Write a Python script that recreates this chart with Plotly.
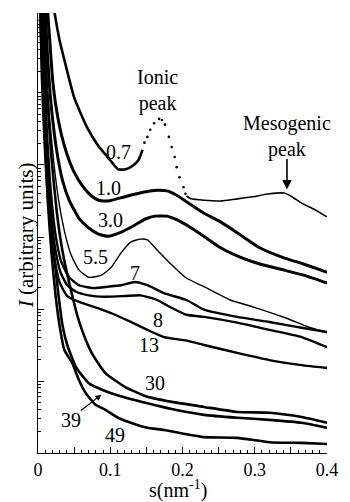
import numpy as np
import plotly.graph_objects as go

# s (nm^-1) and log10 of intensity (arbitrary units)
s_07_low = [0.0203, 0.023, 0.0297, 0.0365, 0.050, 0.0676, 0.0838, 0.0973, 0.1108, 0.1216, 0.1311, 0.1392, 0.1446]
L_07_low = [6.29, 6.11, 5.74, 5.46, 4.94, 4.53, 4.26, 4.10, 3.94, 3.94, 3.99, 4.07, 4.21]
s_07_peak = [0.1473, 0.1514, 0.1554, 0.1608, 0.1676, 0.1716, 0.1757, 0.1811, 0.1851, 0.1892, 0.1919, 0.1959, 0.2014, 0.2041]
L_07_peak = [4.31, 4.39, 4.49, 4.58, 4.64, 4.625, 4.56, 4.39, 4.25, 4.11, 3.97, 3.83, 3.69, 3.60]
s_07_tail = [0.2054, 0.2122, 0.2297, 0.2527, 0.2757, 0.2973, 0.3203, 0.3405, 0.3514, 0.3649, 0.3838, 0.400]
L_07_tail = [3.57, 3.53, 3.51, 3.50, 3.53, 3.56, 3.60, 3.61, 3.56, 3.47, 3.375, 3.28]

s_10 = [0.0122, 0.0162, 0.0203, 0.0257, 0.0324, 0.0405, 0.050, 0.0608, 0.073, 0.0838, 0.0973, 0.1203, 0.1473, 0.1649, 0.1784, 0.1919, 0.2054, 0.2297, 0.2527, 0.2757, 0.3068, 0.3405, 0.3676, 0.400]
L_10 = [6.29, 5.74, 5.18, 4.76, 4.42, 4.14, 3.90, 3.72, 3.58, 3.51, 3.50, 3.56, 3.625, 3.65, 3.64, 3.58, 3.49, 3.33, 3.21, 3.06, 2.85, 2.71, 2.625, 2.51]

s_30 = [0.0095, 0.0135, 0.0189, 0.0257, 0.0338, 0.0432, 0.0568, 0.0703, 0.0838, 0.0973, 0.1135, 0.1311, 0.1486, 0.1622, 0.1784, 0.1919, 0.2122, 0.2324, 0.2527, 0.2797, 0.3068, 0.3405, 0.3676, 0.400]
L_30 = [6.29, 5.46, 4.76, 4.21, 3.79, 3.51, 3.26, 3.125, 3.04, 3.01, 3.06, 3.15, 3.25, 3.29, 3.29, 3.24, 3.125, 2.99, 2.85, 2.72, 2.625, 2.54, 2.47, 2.36]

s_55 = [0.0068, 0.0108, 0.0162, 0.023, 0.0297, 0.0378, 0.0459, 0.0568, 0.0703, 0.0878, 0.1014, 0.1149, 0.1284, 0.1419, 0.1514, 0.1649, 0.1824, 0.2054, 0.2297, 0.2662, 0.2973, 0.3432, 0.3743, 0.400]
L_55 = [6.29, 5.46, 4.625, 3.93, 3.44, 3.03, 2.75, 2.54, 2.44, 2.47, 2.58, 2.78, 2.93, 2.97, 2.96, 2.82, 2.64, 2.43, 2.31, 2.125, 2.03, 1.875, 1.75, 1.67]

s_7 = [0.0054, 0.0081, 0.0122, 0.0176, 0.0243, 0.0324, 0.0432, 0.0568, 0.077, 0.0973, 0.1149, 0.1338, 0.1514, 0.1743, 0.2054, 0.2297, 0.2757, 0.3203, 0.3649, 0.400]
L_7 = [6.29, 5.46, 4.49, 3.65, 3.03, 2.65, 2.44, 2.33, 2.29, 2.31, 2.33, 2.375, 2.33, 2.22, 2.125, 1.99, 1.89, 1.82, 1.74, 1.68]

s_8 = [0.0041, 0.0068, 0.0108, 0.0162, 0.023, 0.0311, 0.0405, 0.0527, 0.0703, 0.0932, 0.1203, 0.1419, 0.1649, 0.1824, 0.2054, 0.2297, 0.2757, 0.3203, 0.3649, 0.400]
L_8 = [6.29, 5.32, 4.35, 3.51, 2.89, 2.51, 2.33, 2.24, 2.19, 2.17, 2.18, 2.19, 2.125, 2.03, 1.92, 1.89, 1.81, 1.71, 1.61, 1.47]

s_13 = [0.0027, 0.0054, 0.0095, 0.0149, 0.0216, 0.0297, 0.0405, 0.0568, 0.0838, 0.1068, 0.1284, 0.1514, 0.1743, 0.2054, 0.2297, 0.2757, 0.3203, 0.3649, 0.400]
L_13 = [6.29, 5.18, 4.21, 3.375, 2.75, 2.375, 2.18, 2.10, 2.01, 1.92, 1.82, 1.71, 1.61, 1.56, 1.50, 1.39, 1.29, 1.22, 1.18]

s_300 = [0.0068, 0.0122, 0.0189, 0.0257, 0.0324, 0.0392, 0.0473, 0.0541, 0.0608, 0.0743, 0.0932, 0.1203, 0.1514, 0.1851, 0.2297, 0.2757, 0.3203, 0.3649, 0.400]
L_300 = [6.29, 5.04, 4.07, 3.375, 2.89, 2.54, 2.19, 1.92, 1.71, 1.39, 1.11, 0.92, 0.78, 0.71, 0.64, 0.57, 0.56, 0.50, 0.42]

s_39 = [0.0041, 0.0081, 0.0122, 0.0176, 0.023, 0.0284, 0.0338, 0.0405, 0.0527, 0.0703, 0.0838, 0.1014, 0.1243, 0.1514, 0.1851, 0.2297, 0.2757, 0.3203, 0.3649, 0.400]
L_39 = [6.29, 5.18, 4.21, 3.28, 2.68, 2.19, 1.78, 1.50, 1.19, 0.97, 0.90, 0.83, 0.76, 0.69, 0.61, 0.53, 0.49, 0.46, 0.42, 0.35]

s_49 = [0.0027, 0.0054, 0.0095, 0.0135, 0.0189, 0.0243, 0.0297, 0.0365, 0.0473, 0.0568, 0.0662, 0.0797, 0.0932, 0.1108, 0.1284, 0.1514, 0.1743, 0.2054, 0.2297, 0.2757, 0.3203, 0.3649, 0.400]
L_49 = [6.29, 5.46, 4.49, 3.51, 2.75, 2.19, 1.78, 1.43, 1.25, 1.01, 0.83, 0.67, 0.60, 0.49, 0.42, 0.35, 0.32, 0.26, 0.22, 0.21, 0.15, 0.14, 0.125]

x_tickvals = [0, 0.05, 0.1, 0.15, 0.2, 0.25, 0.3, 0.35, 0.4]
x_ticktext = ["0", "", "0.1", "", "0.2", "", "0.3", "", "0.4"]

SERIF = "Liberation Serif, Times New Roman, serif"
fig = go.Figure()

def add_line(s, L, width):
    fig.add_trace(go.Scatter(x=s, y=np.power(10.0, L), mode="lines",
                             line=dict(color="black", width=width, shape="spline", smoothing=0.5),
                             hoverinfo="skip", showlegend=False))

add_line(s_07_low, L_07_low, 2.6)
fig.add_trace(go.Scatter(x=s_07_peak, y=np.power(10.0, L_07_peak), mode="markers",
                         marker=dict(color="black", size=2.6), showlegend=False, hoverinfo="skip"))
add_line(s_07_tail, L_07_tail, 1.6)
add_line(s_10, L_10, 3.0)
add_line(s_30, L_30, 3.0)
add_line(s_55, L_55, 1.4)
add_line(s_7, L_7, 2.4)
add_line(s_8, L_8, 2.4)
add_line(s_13, L_13, 2.4)
add_line(s_300, L_300, 2.6)
add_line(s_39, L_39, 2.6)
add_line(s_49, L_49, 2.6)

labels = [("0.7", 0.1108, 4.18), ("1.0", 0.0973, 3.68), ("3.0", 0.100, 3.24), ("5.5", 0.0797, 2.72),
          ("7", 0.1338, 2.50), ("8", 0.1662, 1.85), ("13", 0.154, 1.50), ("30", 0.162, 0.97),
          ("39", 0.046, 0.46), ("49", 0.1068, 0.25)]
for t, x, y in labels:
    fig.add_annotation(x=x, y=y, text=t, showarrow=False, font=dict(family=SERIF, size=20, color="black"))

fig.add_annotation(x=0.1649, y=5.04, text="Ionic<br>peak", showarrow=False,
                   font=dict(family=SERIF, size=20, color="black"))
fig.add_annotation(x=0.3446, y=4.39, text="Mesogenic<br>peak", showarrow=False,
                   font=dict(family=SERIF, size=20, color="black"))
fig.add_annotation(x=0.3446, y=3.66, ax=0, ay=-32, text="", showarrow=True,
                   arrowhead=2, arrowsize=1.2, arrowwidth=1.6, arrowcolor="black")
fig.add_annotation(x=0.0878, y=0.81, ax=-22, ay=17, text="", showarrow=True,
                   arrowhead=2, arrowsize=1.0, arrowwidth=1.2, arrowcolor="black")

fig.add_annotation(xref="paper", yref="paper", x=-0.09, y=0.495, text="<i>I</i> (arbitrary units)",
                   textangle=-90, showarrow=False, font=dict(family=SERIF, size=21, color="black"))
fig.add_annotation(xref="paper", yref="paper", x=0.485, y=-0.115, yanchor="bottom", text="s(nm<sup>-1</sup>)",
                   showarrow=False, font=dict(family=SERIF, size=20, color="black"))

fig.update_layout(
    width=350, height=502, margin=dict(l=38, r=16, t=13, b=49),
    paper_bgcolor="white", plot_bgcolor="white", showlegend=False,
    font=dict(family=SERIF),
    xaxis=dict(range=[0, 0.4], tickmode="array", tickvals=x_tickvals, ticktext=x_ticktext,
               ticks="inside", ticklen=6, tickcolor="black", showline=True, linecolor="black",
               linewidth=1.2, showgrid=False, zeroline=False,
               tickfont=dict(family=SERIF, size=18, color="black"),
               minor=dict(ticks="inside", ticklen=3, dtick=0.01, tickcolor="black", showgrid=False)),
    yaxis=dict(type="log", range=[0, 6.111], dtick=1, ticks="inside", ticklen=6, tickcolor="black",
               showticklabels=False, showline=True, linecolor="black", linewidth=1.2,
               showgrid=False, zeroline=False,
               minor=dict(ticks="inside", ticklen=3, tickcolor="black", showgrid=False)),
)

fig.write_html("out.html")
